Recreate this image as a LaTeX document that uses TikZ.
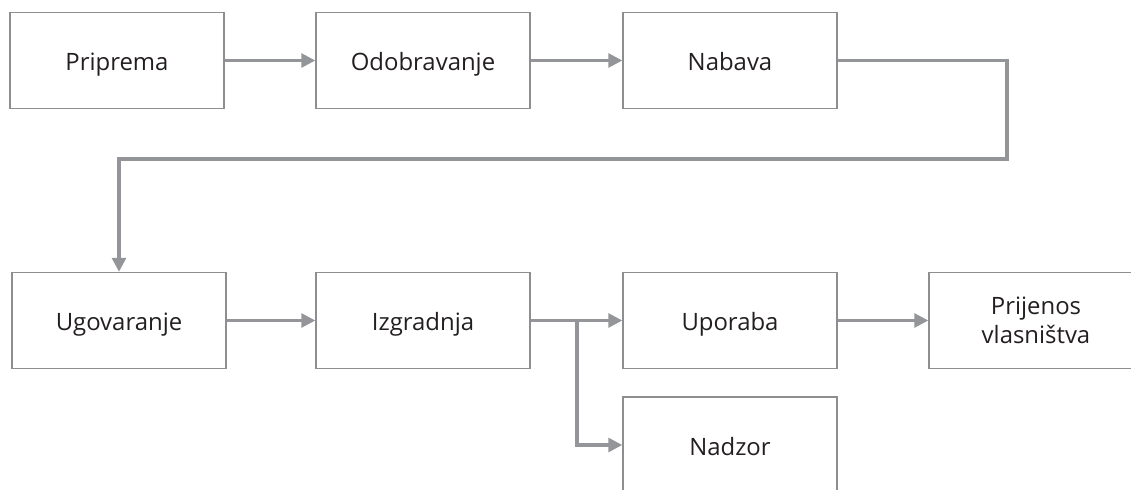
\documentclass[tikz,border=0pt]{standalone}
\usepackage{fontspec}
\setmainfont{Open Sans}
\usetikzlibrary{arrows.meta}
\definecolor{boxgray}{HTML}{8E8E90}
\definecolor{arrowgray}{HTML}{939598}
\definecolor{txt}{HTML}{231F20}
\tikzset{
 faza/.style={draw=boxgray,line width=0.8pt,minimum width=5.35cm,minimum height=2.4cm,
  text=txt,font=\fontsize{17}{21}\selectfont,text height=14.6pt,text depth=0.2pt},
 dvoredna/.style={faza,align=center,text height=,text depth=},
 tok/.style={draw=arrowgray,line width=2.8pt,-{Triangle[length=3.5mm,width=3.4mm]}}
}
\begin{document}
\begin{tikzpicture}[x=0.025cm,y=-0.025cm]
 \clip (0,0) rectangle (1131,490);

\node[faza] (pri) at (117,60.5) {Priprema};
\node[faza] (odo) at (423,60.5) {Odobravanje};
\node[faza] (nab) at (730,60.5) {Nabava};

\node[faza] (ugo) at (119,320.5) {Ugovaranje};
\node[faza] (izg) at (423,320.5) {Izgradnja};
\node[faza] (upo) at (730,320.5) {Uporaba};
\node[dvoredna] (pri2) at (1036,320.5) {Prijenos\\vlasništva};
\node[faza] (nad) at (730,445) {Nadzor};

\coordinate (zavoj) at (1007,159);
\coordinate (grana) at (577,320.5);

\draw [tok] (pri.east)--(odo.west);
\draw [tok] (odo.east)--(nab.west);
\draw [tok] (nab.east)-|(zavoj)-|(ugo.north);
\draw [tok] (ugo.east)--(izg.west);
\draw [tok] (izg.east)--(upo.west);
\draw [tok] (grana)|-(nad.west);
\draw [tok] (upo.east)--(pri2.west);

\end{tikzpicture}
\end{document}
